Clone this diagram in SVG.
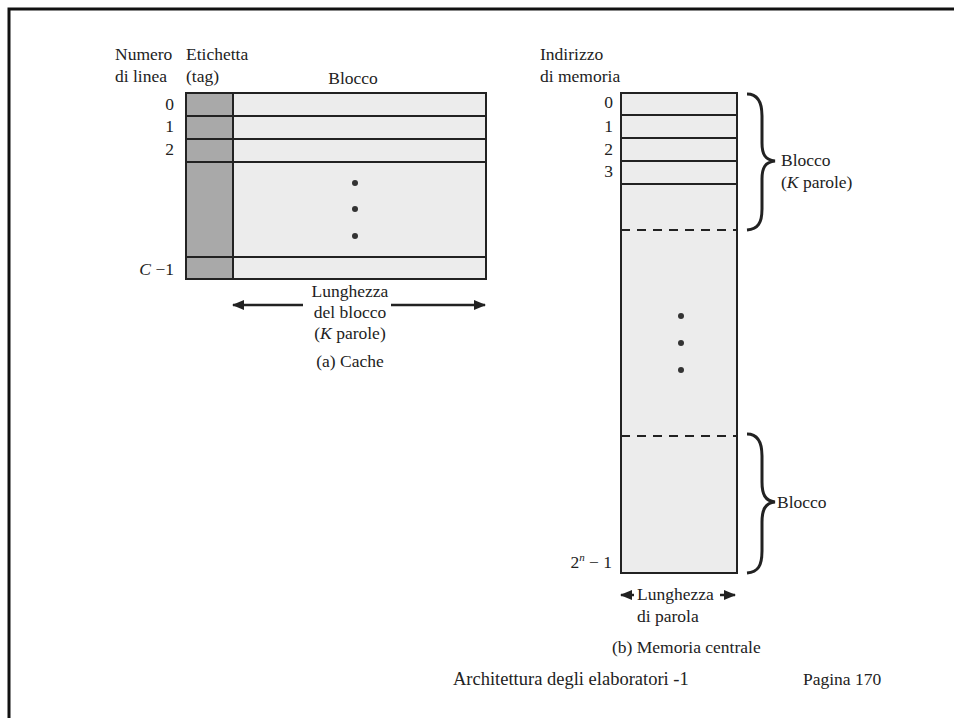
<svg xmlns="http://www.w3.org/2000/svg" width="954" height="718" viewBox="0 0 954 718" font-family="'Liberation Serif', 'DejaVu Serif', serif">
<defs>
<marker id="ah" viewBox="0 0 10 10" refX="9" refY="5" markerWidth="5" markerHeight="5" orient="auto-start-reverse" markerUnits="strokeWidth">
<path d="M0,1 L10,5 L0,9 Z" fill="#222"/>
</marker>
</defs>
<style>
text{font-family:'Liberation Serif','DejaVu Serif',serif;font-size:17.5px;fill:#222}
.r{text-anchor:end}
.m{text-anchor:middle}
.cell{stroke:#222;stroke-width:2}
.tag{fill:#a9a9a9}
.blk{fill:#ececec}
.dash{stroke:#222;stroke-width:2;stroke-dasharray:9,7}
.brace{fill:none;stroke:#222;stroke-width:3}
.arr{stroke:#222;stroke-width:2.5;fill:none}
.dot{fill:#333}
</style>
<rect width="954" height="718" fill="#fff"/>
<path d="M9,718 L9,9 L954,9" fill="none" stroke="#111" stroke-width="3"/>

<g id="cache">
<rect class="blk" x="186" y="93" width="300" height="186"/>
<rect class="tag" x="186" y="93" width="47" height="186"/>
<rect class="cell" fill="none" x="186" y="93" width="300" height="186"/>
<line class="cell" x1="233" y1="93" x2="233" y2="279"/>
<line class="cell" x1="186" y1="116" x2="486" y2="116"/>
<line class="cell" x1="186" y1="139" x2="486" y2="139"/>
<line class="cell" x1="186" y1="162" x2="486" y2="162"/>
<line class="cell" x1="186" y1="257" x2="486" y2="257"/>
<circle class="dot" cx="355" cy="183" r="3"/>
<circle class="dot" cx="355" cy="209" r="3"/>
<circle class="dot" cx="355" cy="236" r="3"/>
</g>

<g id="cache-labels">
<text x="115" y="60">Numero</text>
<text x="115" y="82">di linea</text>
<text x="186" y="60">Etichetta</text>
<text x="186" y="82">(tag)</text>
<text class="m" x="353" y="84">Blocco</text>
<text class="r" x="174" y="110">0</text>
<text class="r" x="174" y="132">1</text>
<text class="r" x="174" y="155">2</text>
<text class="r" x="174" y="275"><tspan font-style="italic">C</tspan> −1</text>
<text class="m" x="350" y="297">Lunghezza</text>
<text class="m" x="350" y="318">del blocco</text>
<text class="m" x="350" y="339">(<tspan font-style="italic">K</tspan> parole)</text>
<text class="m" x="350" y="367">(a) Cache</text>
</g>

<g id="memory">
<rect class="blk" x="621" y="93" width="116" height="480"/>
<rect class="cell" fill="none" x="621" y="93" width="116" height="480"/>
<line class="cell" x1="621" y1="115" x2="737" y2="115"/>
<line class="cell" x1="621" y1="138" x2="737" y2="138"/>
<line class="cell" x1="621" y1="161" x2="737" y2="161"/>
<line class="cell" x1="621" y1="184" x2="737" y2="184"/>
<line class="dash" x1="621" y1="230" x2="737" y2="230"/>
<line class="dash" x1="621" y1="436" x2="737" y2="436"/>
<circle class="dot" cx="681" cy="316" r="3"/>
<circle class="dot" cx="681" cy="343" r="3"/>
<circle class="dot" cx="681" cy="370" r="3"/>
</g>

<g id="memory-labels">
<text x="540" y="60">Indirizzo</text>
<text x="540" y="82">di memoria</text>
<text class="r" x="613" y="108">0</text>
<text class="r" x="613" y="132">1</text>
<text class="r" x="613" y="155">2</text>
<text class="r" x="613" y="177">3</text>
<text class="r" x="612" y="568">2<tspan font-size="11" dy="-7" font-style="italic">n</tspan><tspan dy="7"> − 1</tspan></text>
<text x="781" y="166">Blocco</text>
<text x="781" y="188">(<tspan font-style="italic">K</tspan> parole)</text>
<text x="777" y="508">Blocco</text>
<text x="637" y="600">Lunghezza</text>
<text x="637" y="622">di parola</text>
<text x="612" y="653">(b) Memoria centrale</text>
</g>

<g id="connectors">
<line class="arr" x1="303" y1="305" x2="233" y2="305" marker-end="url(#ah)"/>
<line class="arr" x1="391" y1="305" x2="485" y2="305" marker-end="url(#ah)"/>
<line class="arr" x1="634" y1="595" x2="621" y2="595" stroke-width="2" marker-end="url(#ah)"/>
<line class="arr" x1="720" y1="595" x2="735" y2="595" stroke-width="2" marker-end="url(#ah)"/>
<path class="brace" d="M747,94 C758,94 762,102 762,116 L762,143 C762,154 765,160 775,161 C765,162 762,168 762,179 L762,209 C762,223 758,229 747,230"/>
<path class="brace" d="M747,434 C758,434 762,442 762,456 L762,482 C762,494 765,501 775,502 C765,503 762,510 762,522 L762,551 C762,566 758,572 747,573"/>
</g>

<g id="footer">
<text x="453" y="685" font-size="18.5" style="font-size:18.5px">Architettura degli elaboratori -1</text>
<text x="803" y="685">Pagina 170</text>
</g>
</svg>
